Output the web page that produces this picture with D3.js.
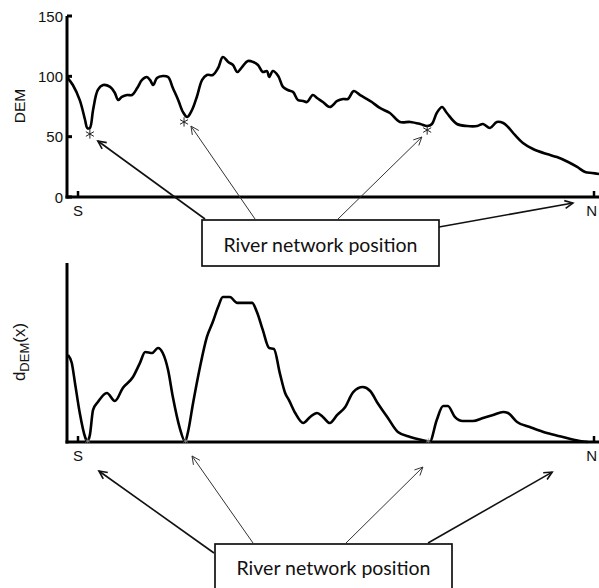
<!DOCTYPE html>
<html>
<head>
<meta charset="utf-8">
<script src="https://cdn.jsdelivr.net/npm/d3@7"></script>
<style>
  html, body { margin: 0; padding: 0; background: #fff; }
  svg { display: block; }
  text { font-family: "Liberation Sans", Arial, sans-serif; }
</style>
</head>
<body>
<svg id="chart" width="599" height="588"></svg>
<script>
// ---------- DATA ----------
// position along the river profile (0..100) and DEM elevation
const demPos = [0,1.1,2.4,3.4,3.8,4.3,4.9,5.8,6.8,8.1,9.0,9.6,10.3,11.3,12.2,13.2,14.1,15.0,15.6,16.2,16.9,18.0,19.0,19.9,20.9,21.8,22.6,23.5,24.4,25.4,26.3,27.4,28.4,29.3,30.3,31.2,32.0,32.9,34.0,35.0,35.9,36.8,37.6,38.0,38.7,39.7,40.6,41.5,42.5,43.4,44.4,45.1,46.2,47.0,48.1,49.4,50.8,51.9,52.8,53.9,55.1,56.4,57.3,58.8,60.7,62.6,64.5,66.4,67.7,68.6,69.5,70.5,71.4,73.3,75.2,77.1,78.2,79.5,80.8,82.0,82.9,84.2,85.7,87.6,90.2,92.1,94.2,95.9,97.4,98.7,100];
const demVal = [99.4,92.8,80.3,63.8,57.2,57.2,72.1,88.7,92.8,91.2,86.2,80.4,82.9,84.5,84.5,90.3,97.0,99.4,97.0,92.8,98.6,100.3,99.4,90.3,80.4,70.4,66.3,72.1,82.9,97.0,101.1,101.1,106.9,116.0,111.9,109.4,103.6,107.7,112.7,111.9,109.4,103.6,104.4,99.4,104.4,100.3,91.2,88.7,87.0,80.4,79.6,78.7,84.5,82.0,78.7,74.6,79.6,81.2,81.2,87.8,84.5,81.2,78.7,73.8,69.6,62.2,62.2,60.5,58.8,60.5,69.6,74.6,69.6,60.5,58.8,58.8,60.5,57.2,62.2,61.3,58.0,51.4,44.8,39.8,35.6,33.1,29.0,24.9,20.7,19.9,19.1];

// d_DEM(x) profile (arbitrary units 0..100)
const dPos = [0.2,0.9,1.5,2.4,3.4,3.8,4.3,4.9,5.8,7.5,9.0,10.5,12.4,13.7,14.7,16.0,17.1,18.0,19.0,19.9,21.2,22.2,22.7,23.7,25.0,26.3,27.4,28.4,29.3,30.6,32.0,33.1,34.8,35.7,36.8,38.0,38.9,40.0,41.0,41.7,42.9,44.4,45.7,47.0,48.1,49.4,50.8,52.3,53.8,55.6,57.0,58.5,60.2,62.2,64.5,66.7,68.2,69.5,70.7,71.6,72.9,74.4,76.3,78.2,80.1,82.0,82.9,84.6,87.0,90.2,93.2,96.4,97.9];
const dVal = [48.6,44.1,33.0,16.2,2.8,0.3,3.9,17.9,22.3,27.4,22.9,30.2,36.3,44.1,50.3,49.7,52.5,49.7,40.2,25.1,7.8,0.3,5.0,21.8,41.9,58.7,67.0,75.4,81.0,81.0,77.7,77.7,77.7,72.6,62.6,52.5,52.0,38.5,27.4,23.5,16.2,10.6,14.0,16.2,14.0,10.6,15.1,19.6,27.9,30.7,28.5,21.2,14.0,5.6,2.8,1.1,0.3,12.3,20.1,20.1,14.0,11.7,11.7,13.4,15.1,16.8,16.2,11.2,8.4,5.0,2.8,0.6,0.0];

// river network positions (stars) on the DEM curve
const starPos = [4.3, 22.0, 67.7];
const starDem = [52.2, 62.2, 55.5];
const starD = [3.9, 22.3, 67.9];

// arrow targets (data units) for each panel
const topArrowPos = [5.8, 23.3, 66.7, 95.1];
const topArrowVal = [46.4, 58.8, 49.7, -5.0];
const botArrowPos = [6.0, 23.5, 66.9, 91.2];
const botArrowVal = [-16.2, -7.8, -14.0, -16.8];
const arrowHeavy = [true, false, false, true];

const demTicks = [0, 50, 100, 150];
const endLabels = ["S", "N"];
const endPos = [2.07, 99.06];
const boxText = "River network position";

// ---------- LAYOUT ----------
const svg = d3.select("#chart");
const x = d3.scaleLinear().domain([0, 100]).range([67, 599]);
const yTop = d3.scaleLinear().domain([0, 150]).range([197, 16]);
const yBot = d3.scaleLinear().domain([0, 100]).range([442, 263]);

function drawAxes(yScale, ticks, yTopPx) {
  const g = svg.append("g");
  const y0 = yScale(0);
  g.append("line").attr("x1", x(0)).attr("x2", x(0))
    .attr("y1", yTopPx).attr("y2", y0 + 1.5)
    .attr("stroke", "#000").attr("stroke-width", 3);
  g.append("line").attr("x1", x(0) - 1.5).attr("x2", 599)
    .attr("y1", y0).attr("y2", y0)
    .attr("stroke", "#000").attr("stroke-width", 3);
  g.selectAll(".yt").data(ticks).join("line")
    .attr("x1", x(0)).attr("x2", x(0) + 5)
    .attr("y1", d => yScale(d)).attr("y2", d => yScale(d))
    .attr("stroke", "#000").attr("stroke-width", 3);
  g.selectAll(".ytl").data(ticks).join("text")
    .attr("x", x(0) - 4).attr("y", d => yScale(d))
    .attr("text-anchor", "end").attr("dominant-baseline", "central")
    .attr("font-size", 15).attr("fill", "#111")
    .text(d => d);
  g.selectAll(".xt").data(endPos).join("line")
    .attr("x1", d => x(d)).attr("x2", d => x(d))
    .attr("y1", y0).attr("y2", y0 - 6)
    .attr("stroke", "#000").attr("stroke-width", 2.5);
  g.selectAll(".xtl").data(endLabels).join("text")
    .attr("x", (d, i) => i === 1 ? 597 : x(endPos[i]))
    .attr("y", y0 + 13)
    .attr("text-anchor", (d, i) => i === 1 ? "end" : "middle")
    .attr("dominant-baseline", "central")
    .attr("font-size", 15).attr("fill", "#111")
    .text(d => d);
}

drawAxes(yTop, demTicks, 16);
drawAxes(yBot, [], 263);

// DEM curve
const demLine = d3.line().x(d => x(d[0])).y(d => yTop(d[1])).curve(d3.curveCatmullRom.alpha(0.5));
svg.append("path").datum(demPos.map((p, i) => [p, demVal[i]]))
  .attr("d", demLine).attr("fill", "none").attr("stroke", "#000")
  .attr("stroke-width", 2.6).attr("stroke-linejoin", "round");

// d_DEM curve
const dLine = d3.line().x(d => x(d[0])).y(d => yBot(d[1])).curve(d3.curveMonotoneX);
svg.append("path").datum(dPos.map((p, i) => [p, dVal[i]]))
  .attr("d", dLine).attr("fill", "none").attr("stroke", "#000")
  .attr("stroke-width", 2.6).attr("stroke-linejoin", "round");

// stars
const star = d3.symbol().type(d3.symbolAsterisk);
svg.selectAll(".starTop").data(starPos).join("path")
  .attr("transform", (d, i) => `translate(${x(d)},${yTop(starDem[i])})`)
  .attr("d", star.size(60)()).attr("fill", "none").attr("stroke", "#222").attr("stroke-width", 1);
svg.selectAll(".starBot").data(starD).join("path")
  .attr("transform", d => `translate(${x(d)},${yBot(0) - 1})`)
  .attr("d", star.size(20)()).attr("fill", "none").attr("stroke", "#888").attr("stroke-width", 0.8);

// y labels
svg.append("text").attr("transform", "translate(25,106) rotate(-90)")
  .attr("text-anchor", "middle").attr("font-size", 15.5).attr("fill", "#111").text("DEM");
const dl = svg.append("text").attr("transform", "translate(25,352) rotate(-90)")
  .attr("text-anchor", "middle").attr("font-size", 17).attr("fill", "#111");
dl.append("tspan").text("d");
dl.append("tspan").attr("font-size", 13).attr("dy", 4).text("DEM");
dl.append("tspan").attr("dy", -4).text("(x)");

// arrows
function arrow(x1, y1, x2, y2, heavy) {
  const g = svg.append("g").attr("stroke", heavy ? "#111" : "#333")
    .attr("stroke-width", heavy ? 1.6 : 1).attr("fill", "none");
  g.append("line").attr("x1", x1).attr("y1", y1).attr("x2", x2).attr("y2", y2);
  const a = Math.atan2(y1 - y2, x1 - x2), L = 9, w = 0.45;
  const p1 = [x2 + L * Math.cos(a + w), y2 + L * Math.sin(a + w)];
  const p2 = [x2 + L * Math.cos(a - w), y2 + L * Math.sin(a - w)];
  g.append("path").attr("d", `M${p1[0]},${p1[1]}L${x2},${y2}L${p2[0]},${p2[1]}`);
}
const topStarts = [[205, 219], [255, 219], [338, 219], [439, 227]];
topArrowPos.forEach((p, i) => arrow(topStarts[i][0], topStarts[i][1], x(p), yTop(topArrowVal[i]), arrowHeavy[i]));
const botStarts = [[214, 553], [253, 543], [346, 543], [428, 543]];
botArrowPos.forEach((p, i) => arrow(botStarts[i][0], botStarts[i][1], x(p), yBot(botArrowVal[i]), arrowHeavy[i]));

// boxes
function box(x0, y0, w, h, baseline) {
  svg.append("rect").attr("x", x0).attr("y", y0).attr("width", w).attr("height", h)
    .attr("fill", "#fff").attr("stroke", "#111").attr("stroke-width", 1.7);
  const t = svg.append("text").attr("x", x0 + w / 2).attr("y", baseline)
    .attr("text-anchor", "middle").style("font-family", "Lato, 'Open Sans', sans-serif")
    .attr("font-size", 18).attr("fill", "#111").text(boxText);
  const len = t.node().getComputedTextLength();
  t.attr("font-size", 18 * 194 / len);
}
box(202, 220, 237, 46, 252);
box(215, 544, 237, 60, 575);
</script>
</body>
</html>
